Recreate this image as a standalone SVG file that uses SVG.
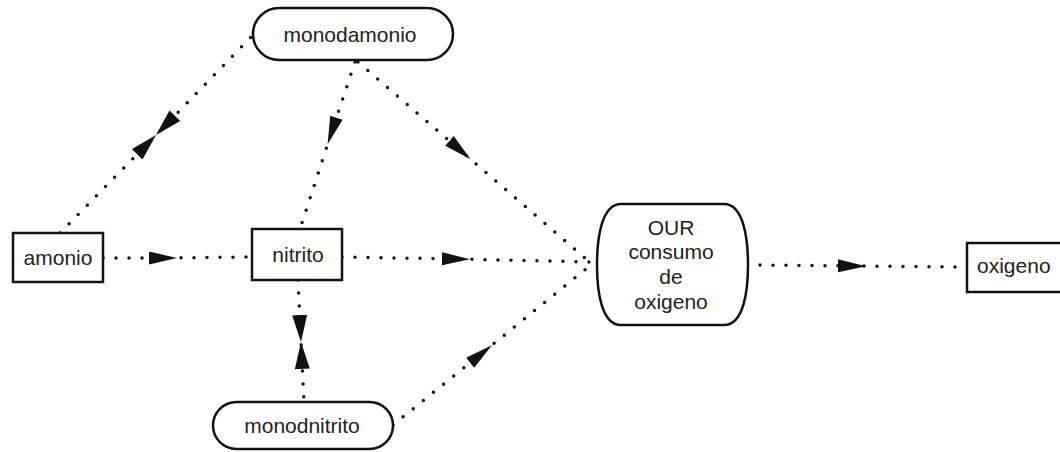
<svg xmlns="http://www.w3.org/2000/svg" width="1060" height="452" viewBox="0 0 1060 452">
<style>
.box{fill:#fff;stroke:#111;stroke-width:2.5}
.t{font-family:"Liberation Sans",Arial,sans-serif;font-size:21px;fill:#222;text-anchor:middle}
.c{fill:none;stroke:#111;stroke-width:3.5;stroke-linecap:round;stroke-dasharray:0 13}
.a{marker-mid:url(#arr)}
.b{marker-mid:url(#bow)}
</style>
<defs>
<marker id="arr" markerUnits="userSpaceOnUse" markerWidth="30" markerHeight="14" refX="14" refY="6.5" orient="auto" viewBox="0 0 30 14">
<path d="M0,0 L28,6.5 L0,13 z" fill="#111"/>
</marker>
<marker id="bow" markerUnits="userSpaceOnUse" markerWidth="56" markerHeight="16" refX="27" refY="7.5" orient="auto" viewBox="0 0 56 16">
<path d="M0,0 L27,7.5 L0,15 z M54,0 L27,7.5 L54,15 z" fill="#111"/>
</marker>
</defs>
<rect width="1060" height="452" fill="#fff"/>
<g id="connectors">
<path class="c b" d="M60,233 L156,135 L253,35"/>
<path class="c a" d="M355,62 L332,131 L300,229"/>
<path class="c a" d="M358,62 L460,150 L592,264"/>
<path class="c a" d="M103,258 L163,258 L252,257"/>
<path class="c a" d="M342,257 L456,259 L592,262"/>
<path class="c b" d="M298,280 L301,342 L304,402"/>
<path class="c a" d="M393,425 L481,354 L592,264"/>
<path class="c a" d="M747,265 L852,266 L967,267"/>
</g>
<g id="monodamonio">
<rect class="box" x="253" y="8" width="200" height="52" rx="26"/>
<text class="t" x="350" y="42">monodamonio</text>
</g>
<g id="amonio">
<rect class="box" x="13" y="233" width="90" height="49"/>
<text class="t" x="58" y="265">amonio</text>
</g>
<g id="nitrito">
<rect class="box" x="252" y="229" width="90" height="51"/>
<text class="t" x="298" y="262">nitrito</text>
</g>
<g id="our">
<path class="box" d="M621,204 H724 C744,204 748,240 748,265 C748,290 744,325 724,325 H621 C601,325 597,290 597,265 C597,240 601,204 621,204 Z"/>
<text class="t" x="671" y="235">OUR</text>
<text class="t" x="671" y="259">consumo</text>
<text class="t" x="671" y="284">de</text>
<text class="t" x="671" y="309">oxigeno</text>
</g>
<g id="oxigeno">
<rect class="box" x="967" y="243" width="100" height="49"/>
<text class="t" x="977" y="273" style="text-anchor:start">oxigeno</text>
</g>
<g id="monodnitrito">
<rect class="box" x="213" y="402" width="180" height="47" rx="23.5"/>
<text class="t" x="302" y="433">monodnitrito</text>
</g>
</svg>
